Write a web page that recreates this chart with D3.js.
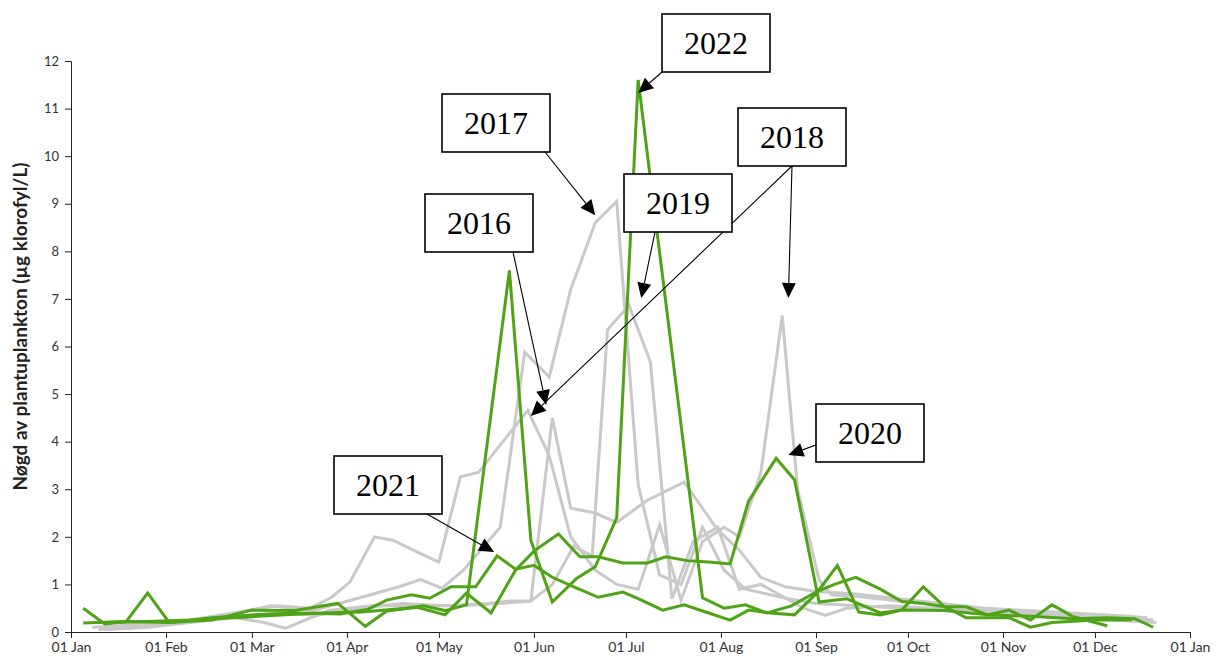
<!DOCTYPE html>
<html>
<head>
<meta charset="utf-8">
<script src="https://cdn.jsdelivr.net/npm/d3@7"></script>
<style>
  html, body { margin: 0; padding: 0; background: #fff; }
  svg { display: block; }
</style>
</head>
<body>
<script>
// ---------- DATA ----------
const monthTicks = ["01-01","02-01","03-01","04-01","05-01","06-01","07-01","08-01","09-01","10-01","11-01","12-01","next-01-01"];
const yTicks = [0,1,2,3,4,5,6,7,8,9,10,11,12];

const dates2016 = ["01-12","01-26","02-09","02-23","03-08","03-22","04-05","04-19","05-03","05-17","05-24","05-31","06-07","06-13","06-21","06-28","07-08","07-20","07-31","08-07","08-14","08-22","09-01","09-14","09-28","10-12","10-26","11-09","11-23","12-07","12-21"];
const values2016 = [0.05,0.1,0.2,0.3,0.4,0.35,0.5,0.6,0.55,0.6,0.65,0.65,4.5,2.6,2.5,2.3,2.77,3.15,2.14,1.72,1.15,0.95,0.85,0.8,0.7,0.6,0.45,0.4,0.3,0.25,0.2];

const dates2017 = ["01-10","01-24","02-07","02-21","03-07","03-21","04-04","04-18","04-25","05-02","05-09","05-21","05-29","06-06","06-13","06-21","06-28","07-05","07-12","07-19","07-26","08-02","08-09","08-16","08-23","09-01","09-15","09-29","10-13","10-27","11-10","11-24","12-08","12-20"];
const values2017 = [0.05,0.1,0.2,0.35,0.55,0.45,0.7,0.95,1.1,0.92,1.3,2.2,5.88,5.36,7.2,8.6,9.05,3.1,1.2,1.0,2.2,1.3,0.9,0.8,0.7,0.6,0.55,0.5,0.45,0.4,0.35,0.3,0.3,0.25];

const dates2018 = ["01-12","01-26","02-09","02-23","03-09","03-20","03-27","04-02","04-10","04-16","04-24","05-01","05-08","05-14","05-30","06-06","06-13","06-21","06-28","07-05","07-12","07-19","07-26","08-02","08-07","08-14","08-21","08-26","09-02","09-06","09-14","09-28","10-12","10-26","11-09","11-23","12-07","12-18"];
const values2018 = [0.1,0.15,0.25,0.4,0.55,0.5,0.73,1.05,2.0,1.93,1.68,1.47,3.26,3.36,4.66,3.7,2.0,1.3,1.0,0.9,2.25,0.67,1.9,2.2,2.0,3.34,6.65,3.0,1.1,0.78,0.75,0.65,0.6,0.5,0.45,0.4,0.35,0.3];

const dates2019 = ["01-08","01-22","02-05","02-19","03-05","03-12","03-26","04-09","04-23","05-07","05-21","05-31","06-07","06-14","06-20","06-25","07-02","07-09","07-16","07-23","07-31","08-07","08-14","08-21","08-28","09-04","09-11","09-25","10-09","10-23","11-06","11-20","12-04","12-16"];
const values2019 = [0.1,0.15,0.2,0.35,0.2,0.08,0.45,0.55,0.55,0.55,0.6,0.65,1.0,1.8,1.6,6.35,6.87,5.67,0.7,1.9,2.2,0.9,1.0,0.75,0.5,0.35,0.5,0.55,0.5,0.45,0.4,0.35,0.3,0.25];

const dates2020 = ["01-05","01-12","01-19","01-26","02-02","02-16","03-01","03-15","03-29","04-07","04-14","04-24","05-03","05-10","05-18","05-26","06-01","06-09","06-16","06-22","06-30","07-08","07-14","07-21","07-28","08-04","08-10","08-19","08-25","09-02","09-11","09-22","09-29","10-13","10-27","11-10","11-24","12-05","12-14","12-20"];
const values2020 = [0.5,0.17,0.22,0.82,0.2,0.25,0.46,0.45,0.6,0.12,0.44,0.52,0.36,0.82,0.4,1.3,1.7,2.06,1.58,1.58,1.45,1.45,1.58,1.5,1.47,1.43,2.75,3.65,3.2,0.63,0.7,0.4,0.46,0.45,0.36,0.33,0.28,0.3,0.28,0.1];

const dates2021 = ["01-05","01-19","02-02","02-16","03-02","03-16","03-30","04-08","04-14","04-22","04-28","05-05","05-13","05-20","05-26","06-01","06-07","06-14","06-22","06-30","07-05","07-13","07-20","07-27","08-04","08-10","08-17","08-25","09-01","09-08","09-15","09-22","09-29","10-06","10-13","10-20","10-27","11-03","11-10","11-17","11-24","12-05"];
const values2021 = [0.19,0.22,0.2,0.3,0.36,0.4,0.38,0.48,0.67,0.78,0.71,0.95,0.95,1.6,1.32,1.4,1.15,0.95,0.73,0.84,0.7,0.46,0.57,0.42,0.25,0.46,0.4,0.36,0.8,1.4,0.42,0.36,0.46,0.95,0.53,0.53,0.36,0.46,0.25,0.57,0.32,0.13];

const dates2022 = ["01-12","01-26","02-09","02-23","03-09","03-23","04-06","04-20","04-26","05-03","05-10","05-24","05-31","06-07","06-15","06-21","06-28","07-05","07-26","08-02","08-09","08-16","08-24","09-01","09-07","09-14","09-22","09-29","10-06","10-13","10-20","11-03","11-10","11-17","12-01","12-13"];
const values2022 = [0.2,0.22,0.25,0.3,0.35,0.4,0.42,0.5,0.55,0.45,0.57,7.6,1.93,0.63,1.13,1.37,2.4,11.6,0.72,0.5,0.57,0.4,0.55,0.84,1.0,1.15,0.9,0.64,0.6,0.53,0.3,0.3,0.1,0.2,0.25,0.25];

const years = ["2016","2017","2018","2019","2020","2021","2022"];
const highlighted = ["2020","2021","2022"];

// annotation labels, each pointing at a (date, value) on the chart
const annotationYears = ["2022","2017","2018","2019","2016","2021","2020"];
const annotationTargets = [
  [["07-05",11.33]],
  [["06-21",8.76]],
  [["08-23",7.02],["05-31",4.54]],
  [["07-06",7.02]],
  [["06-05",4.77]],
  [["05-19",1.68]],
  [["08-23",3.72]]
];

// ---------- LAYOUT ----------
const W = 1217, H = 657;
const margin = {left: 71, right: 27, top: 61, bottom: 25};
const GREY = "#c9c9c9", GREEN = "#4ea416";

// box layout for each annotation (pixel positions of the text boxes)
const boxLayout = {
  "2022": {x:662, y:14, ax:0,  ay:58},
  "2017": {x:442, y:94, ax:103, ay:58},
  "2018": {x:738, y:108, ax:54, ay:58},
  "2019": {x:624, y:174, ax:31, ay:58},
  "2016": {x:425, y:194, ax:88, ay:58},
  "2021": {x:334, y:456, ax:93, ay:58},
  "2020": {x:816, y:404, ax:0,  ay:41}
};
const boxW = 108, boxH = 58;

const parse = d3.timeParse("%Y-%m-%d");
const toDate = s => s.startsWith("next-") ? parse("2020-" + s.slice(5)) : parse("2019-" + s);

const x = d3.scaleTime()
  .domain([toDate("01-01"), toDate("next-01-01")])
  .range([margin.left, W - margin.right]);
const y = d3.scaleLinear()
  .domain([0, 12])
  .range([H - margin.bottom, margin.top]);

const svg = d3.select("body").append("svg")
  .attr("width", W).attr("height", H)
  .attr("viewBox", `0 0 ${W} ${H}`);

// ---------- SERIES ----------
const seriesData = {
  "2016": dates2016.map((d,i) => ({date: toDate(d), value: values2016[i]})),
  "2017": dates2017.map((d,i) => ({date: toDate(d), value: values2017[i]})),
  "2018": dates2018.map((d,i) => ({date: toDate(d), value: values2018[i]})),
  "2019": dates2019.map((d,i) => ({date: toDate(d), value: values2019[i]})),
  "2020": dates2020.map((d,i) => ({date: toDate(d), value: values2020[i]})),
  "2021": dates2021.map((d,i) => ({date: toDate(d), value: values2021[i]})),
  "2022": dates2022.map((d,i) => ({date: toDate(d), value: values2022[i]}))
};

const line = d3.line().x(d => x(d.date)).y(d => y(d.value)).curve(d3.curveLinear);

const order = years.filter(yr => !highlighted.includes(yr)).concat(highlighted);
svg.append("g").selectAll("path")
  .data(order)
  .join("path")
  .attr("fill", "none")
  .attr("stroke", yr => highlighted.includes(yr) ? GREEN : GREY)
  .attr("stroke-width", 3)
  .attr("stroke-linejoin", "miter")
  .attr("d", yr => line(seriesData[yr]));

// ---------- AXES ----------
const xAxis = d3.axisBottom(x)
  .tickValues(monthTicks.map(toDate))
  .tickFormat(d3.timeFormat("%d %b"))
  .tickSize(6).tickPadding(4);
const gx = svg.append("g")
  .attr("transform", `translate(0,${H - margin.bottom})`)
  .call(xAxis);
gx.select(".domain").attr("stroke", "#222");
gx.selectAll(".tick line").attr("stroke", "#222");
gx.selectAll(".tick text").attr("fill", "#333")
  .style("font-family", "Lato, 'Open Sans', sans-serif").style("font-size", "14px");

const yAxis = d3.axisLeft(y).tickValues(yTicks).tickFormat(d3.format("d"))
  .tickSize(6).tickPadding(6);
const gy = svg.append("g")
  .attr("transform", `translate(${margin.left},0)`)
  .call(yAxis);
gy.select(".domain").attr("stroke", "#222");
gy.selectAll(".tick line").attr("stroke", "#222");
gy.selectAll(".tick text").attr("fill", "#333")
  .style("font-family", "Lato, 'Open Sans', sans-serif").style("font-size", "13px");

svg.append("text")
  .attr("transform", `translate(27,${(margin.top + H - margin.bottom)/2 - 20}) rotate(-90)`)
  .attr("text-anchor", "middle")
  .style("font-family", "Lato, 'Open Sans', sans-serif")
  .style("font-size", "19px")
  .style("font-weight", "700")
  .attr("fill", "#222")
  .text("Nøgd av plantuplankton (µg klorofyl/L)");

// ---------- ANNOTATIONS ----------
const ann = svg.append("g");
annotationYears.forEach((yr, i) => {
  const b = boxLayout[yr];
  const sx = b.x + b.ax, sy = b.y + b.ay;
  annotationTargets[i].forEach(([d, v]) => {
    const tx = x(toDate(d)), ty = y(v);
    const ang = Math.atan2(ty - sy, tx - sx);
    const L = 15, hw = 7;
    const bx = tx - L * Math.cos(ang), by = ty - L * Math.sin(ang);
    ann.append("line")
      .attr("x1", sx).attr("y1", sy).attr("x2", bx).attr("y2", by)
      .attr("stroke", "#000").attr("stroke-width", 1.1);
    const px = -Math.sin(ang), py = Math.cos(ang);
    ann.append("polygon")
      .attr("points", [[tx,ty],[bx + hw*px, by + hw*py],[bx - hw*px, by - hw*py]].map(p => p.join(",")).join(" "))
      .attr("fill", "#000");
  });
  ann.append("rect")
    .attr("x", b.x).attr("y", b.y).attr("width", boxW).attr("height", boxH)
    .attr("fill", "#fff").attr("stroke", "#000").attr("stroke-width", 1.6);
  ann.append("text")
    .attr("x", b.x + boxW/2).attr("y", b.y + 40)
    .attr("text-anchor", "middle")
    .style("font-family", "'Liberation Serif', 'Times New Roman', serif")
    .style("font-size", "32px")
    .attr("fill", "#000")
    .text(yr);
});
</script>
</body>
</html>
